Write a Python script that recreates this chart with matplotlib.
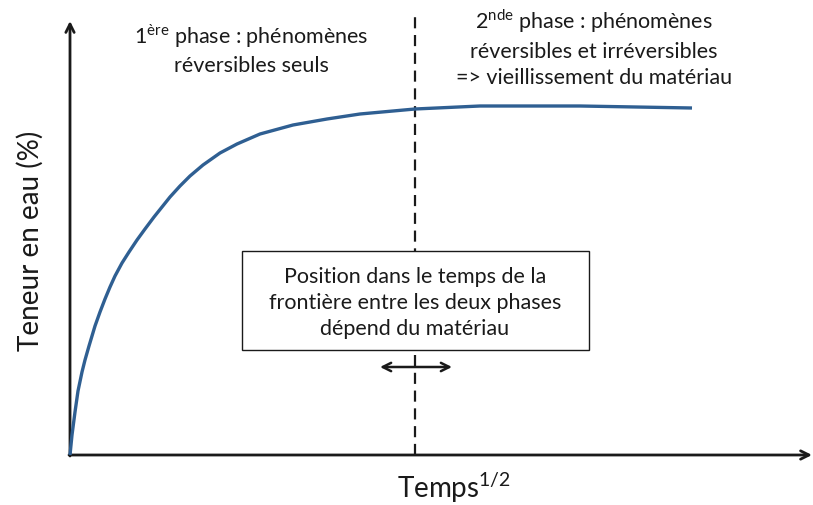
import matplotlib
matplotlib.use("Agg")
import matplotlib.pyplot as plt
from matplotlib.patches import Rectangle

# water content curve (x: sqrt(time), y: content)
temps = [0, 2, 5, 8, 12, 15, 19, 25, 30, 35, 40, 45, 52, 59, 67, 75, 84, 92, 100,
         110, 120, 133, 150, 167, 190, 223, 257, 290, 345, 410, 510, 622]
teneur = [0, 20, 43, 64, 83, 95, 109, 129, 143, 156, 168, 179, 192, 203, 215, 226, 238, 248, 258,
          269, 279, 290, 302, 311, 321, 330, 336, 341, 346, 349, 349, 347]

frontiere = 345

phase1 = "1$^{\\mathrm{ère}}$ phase : phénomènes\nréversibles seuls"
phase2 = ("2$^{\\mathrm{nde}}$ phase : phénomènes\nréversibles et irréversibles\n"
          "=> vieillissement du matériau")
note = "Position dans le temps de la\nfrontière entre les deux phases\ndépend du matériau"

CURVE_COLOR = "#2F5F92"
INK = "#1a1a1a"

plt.rcParams["font.family"] = ["Lato", "DejaVu Sans"]
plt.rcParams["mathtext.fontset"] = "custom"
plt.rcParams["mathtext.rm"] = "Lato"

fig = plt.figure(figsize=(8.13, 5.06), dpi=100)
ax = fig.add_axes([0, 0, 1, 1])
ax.set_xlim(-70, 743)
ax.set_ylim(-50, 456)
ax.axis("off")

# axes with open arrows
ax.annotate("", xy=(0, 434), xytext=(0, -1),
            arrowprops=dict(arrowstyle="->,head_length=0.6,head_width=0.3", lw=2, color=INK,
                            shrinkA=0, shrinkB=0))
ax.annotate("", xy=(742, 0), xytext=(-1, 0),
            arrowprops=dict(arrowstyle="->,head_length=0.6,head_width=0.3", lw=2, color=INK,
                            shrinkA=0, shrinkB=0))

ax.plot(temps, teneur, color=CURVE_COLOR, lw=2.4, solid_capstyle="butt",
        solid_joinstyle="round", zorder=3)

ax.plot([frontiere, frontiere], [0, 439], color=INK, lw=1.6, ls=(0, (5, 3)), zorder=2)

ax.text(181, 407, phase1, ha="center", va="center", fontsize=15.5, color=INK, linespacing=1.4)
ax.text(524, 408, phase2, ha="center", va="center", fontsize=15.5, color=INK, linespacing=1.4)

# note box
ax.add_patch(Rectangle((172, 105), 347, 99, fc="white", ec=INK, lw=1, zorder=4))
ax.text(frontiere, 153, note, ha="center", va="center", fontsize=15.5, color=INK,
        linespacing=1.4, zorder=5)

ax.annotate("", xy=(310, 88), xytext=(382, 88),
            arrowprops=dict(arrowstyle="<->,head_length=0.6,head_width=0.3", lw=1.8, color=INK,
                            shrinkA=0, shrinkB=0))

ax.text(-40, 215, "Teneur en eau (%)", rotation=90, ha="center", va="center",
        fontsize=20, color=INK)
ax.text(384, -42, "Temps$^{1/2}$", ha="center", va="baseline", fontsize=20, color=INK)

fig.savefig("out.png", dpi=100)
